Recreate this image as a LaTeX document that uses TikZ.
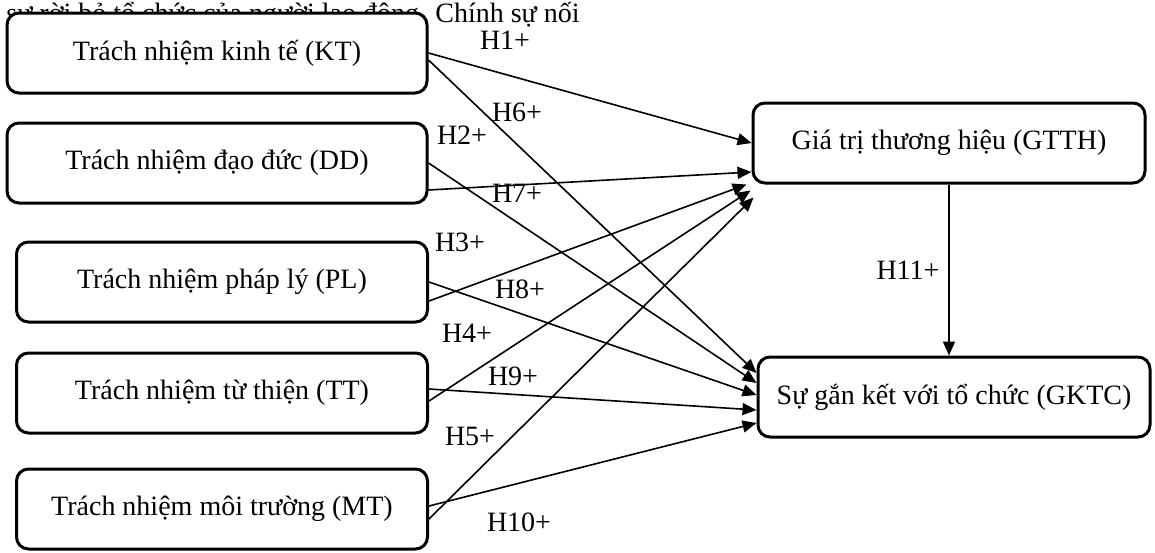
\documentclass[tikz,border=0pt]{standalone}
\usepackage{fontspec}
\setmainfont{Liberation Serif}
\usetikzlibrary{arrows.meta}

\begin{document}
\begin{tikzpicture}[x=0.5pt, y=-0.5pt, font=\fontsize{14}{16}\selectfont,
	box/.style={draw, fill=white, line width=1.5pt, rounded corners=6pt, minimum width=210pt, minimum height=40pt, align=center},
	hyp/.style={line width=0.8pt, -{Triangle[length=7pt, width=6pt]}},
	lbl/.style={inner sep=0pt}]
	\useasboundingbox (0,0) rectangle (1155,552);
	%line of text behind the first box
	\node (note)[anchor=base west, inner sep=0pt] at (6,22) {sự rời bỏ tổ chức của người lao động. Chính sự nối};
	
	%nodes
	\node (KT)[box] at (217,53)                                     {Trách nhiệm kinh tế (KT)};
	\node (DD)[box, below of=KT, node distance=55pt]                {Trách nhiệm đạo đức (DD)};
	\node (PL)[box, minimum width=205.5pt] at (222,282)             {Trách nhiệm pháp lý (PL)};
	\node (TT)[box, minimum width=205.5pt, below of=PL, node distance=55.5pt] {Trách nhiệm từ thiện (TT)};
	\node (MT)[box, minimum width=205.5pt, below of=TT, node distance=58pt]   {Trách nhiệm môi trường (MT)};
	
	\node (GTTH)[box, minimum width=196pt] at (949,143)             {Giá trị thương hiệu (GTTH)};
	\node (GKTC)[box, minimum width=196pt] at (954,397)             {Sự gắn kết với tổ chức (GKTC)};
	
	%labels
	\node (h1)[lbl] at (505,40)   {H1+};
	\node (h6)[lbl] at (517,112)  {H6+};
	\node (h2)[lbl] at (462,135)  {H2+};
	\node (h7)[lbl] at (517,193)  {H7+};
	\node (h3)[lbl] at (460,242)  {H3+};
	\node (h8)[lbl] at (520,289)  {H8+};
	\node (h4)[lbl] at (467,333)  {H4+};
	\node (h9)[lbl] at (513,376)  {H9+};
	\node (h5)[lbl] at (470,436)  {H5+};
	\node (h10)[lbl] at (519,522) {H10+};
	\node (h11)[lbl] at (908,270) {H11+};
	
	%links to GTTH
	\draw[hyp] (KT.east) to (GTTH.west);
	\draw[hyp] ([yshift=-13.5pt]DD.east) to ([yshift=-14.5pt]GTTH.west);
	\draw[hyp] ([yshift=-9.5pt]PL.east) to ([xshift=-2.5pt]GTTH.south west);
	\draw[hyp] ([yshift=-4pt]TT.east) to ([xshift=-0.5pt, yshift=-3pt]GTTH.south west);
	\draw[hyp] ([yshift=-5pt]MT.east) to ([xshift=1pt, yshift=-6.5pt]GTTH.south west);
	
	%links to GKTC
	\draw[hyp] ([yshift=-3.5pt]KT.east) to ([yshift=12pt]GKTC.west);
	\draw[hyp] (DD.east) to ([yshift=7pt]GKTC.west);
	\draw[hyp] (PL.east) to ([yshift=1pt]GKTC.west);
	\draw[hyp] ([yshift=2pt]TT.east) to ([yshift=-6.5pt]GKTC.west);
	\draw[hyp] ([yshift=1.5pt]MT.east) to ([yshift=-13pt]GKTC.west);
	
	\draw[hyp] (GTTH.south) to (GTTH.south |- GKTC.north);
\end{tikzpicture}
\end{document}
